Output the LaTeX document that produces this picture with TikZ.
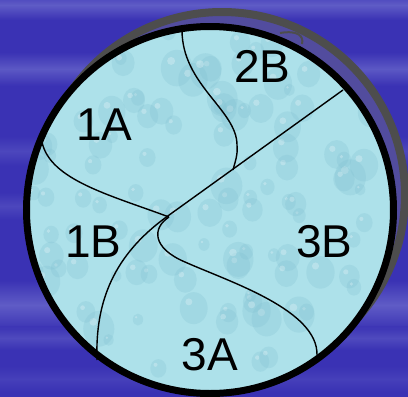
\documentclass[tikz,border=0pt]{standalone}
\usepackage{fontspec}
\setmainfont{Liberation Sans}
\usetikzlibrary{calc}
\definecolor{bgblue}{HTML}{3A32B4}
\definecolor{streak}{HTML}{7878D2}
\definecolor{water}{HTML}{ADE1EA}
\definecolor{drop}{HTML}{7FBFD0}
\definecolor{shadowgrey}{HTML}{4D4D4D}
\definecolor{shadowin}{HTML}{524C9E}
\tikzset{
  zone/.style={font=\fontsize{46}{46}\selectfont, inner sep=0pt, anchor=base},
  border/.style={black, line width=1.4pt}
}

\begin{document}
\begin{tikzpicture}[x=1pt,y=-1pt]
\useasboundingbox (0,0) rectangle (408,397);

% Background
\fill[bgblue] (0,0) rectangle (408,397);
\foreach \ya/\yb/\op in {-10/20/0.6, 52/86/0.55, 136/166/0.3, 192/220/0.3, 280/330/0.6, 326/350/0.35, 366/392/0.2}
  \shade[top color=bgblue, bottom color=bgblue, middle color=streak, opacity=\op] (0,\ya) rectangle (408,\yb);

% Shadow of the disc
\draw[line width=8pt, draw=shadowgrey, fill=shadowin] (222,195) circle (183pt);
\draw[shadowgrey, line width=2pt] (280,33) .. controls (298,30) and (304,36) .. (302,44);

% Disc
\coordinate (c) at (210,210);
\fill[water] (c) circle (184pt);
\begin{scope}
  \clip (c) circle (184pt);
  \pgfmathsetseed{11}
  \foreach \i in {1,...,120} {
    \pgfmathsetmacro\px{30+350*rnd}
    \pgfmathsetmacro\py{30+350*rnd}
    \pgfmathsetmacro\pr{5+11*rnd}
    \fill[drop, opacity=0.25] (\px,\py) ellipse ({\pr pt} and {1.15*\pr pt});
    \fill[white, opacity=0.25] (\px-0.35*\pr,\py-0.45*\pr) circle ({0.25*\pr pt});
  }
\end{scope}
\draw[black, line width=7pt] (c) circle (183.5pt);

% Dividing lines
\coordinate (e1) at (343,90);
\coordinate (k1) at (165,218);
\coordinate (e2) at (97,360);
\coordinate (e3) at (182,30);
\coordinate (k2) at (237,145);
\coordinate (e4) at (233,170);
\coordinate (e5) at (42,142);
\coordinate (e6) at (169,217);
\coordinate (k3) at (185,262);
\coordinate (e7) at (317,355);

\draw[border] (e1) -- (k1) .. controls (115,255) and (95,300) .. (e2);
\draw[border] (e3) .. controls (182,85) and (237,110) .. (k2) .. controls (238,155) and (235,162) .. (e4);
\draw[border] (e5) .. controls (50,180) and (110,195) .. (e6);
\draw[border] (e6) .. controls (152,228) and (152,248) .. (k3) .. controls (230,282) and (318,310) .. (e7);

% Zone labels
\node[zone] (z1A) at (104.5,140) {1A};
\node[zone] (z2B) at (262.5,82) {2B};
\node[zone] (z1B) at (93.5,257) {1B};
\node[zone] (z3B) at (324.5,257) {3B};
\node[zone] (z3A) at (210,370) {3A};

\end{tikzpicture}
\end{document}
